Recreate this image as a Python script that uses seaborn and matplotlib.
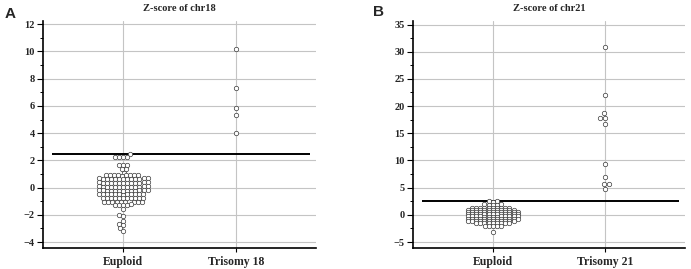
import numpy as np
import pandas as pd
import seaborn as sns
import matplotlib.pyplot as plt
from matplotlib.ticker import MultipleLocator
from matplotlib.collections import PathCollection

# ---------------- data (row by row) ----------------
groups_a = ["Euploid", "Trisomy 18"]
groups_b = ["Euploid", "Trisomy 21"]

euploid_chr18 = [
    2.45, 2.25, 2.24, 2.26, 2.25,
    1.65, 1.64, 1.66, 1.35, 1.33, 1.10,
    0.90, 0.91, 0.89, 0.90, 0.92, 0.88, 0.90, 0.91, 0.89,
    0.66, 0.65, 0.67, 0.66, 0.64, 0.66, 0.68, 0.65, 0.66, 0.67, 0.64, 0.66, 0.65,
    0.37, 0.36, 0.38, 0.37, 0.35, 0.37, 0.39, 0.36, 0.37, 0.38, 0.35, 0.37, 0.36,
    0.07, 0.06, 0.08, 0.07, 0.05, 0.07, 0.09, 0.06, 0.07, 0.08, 0.05, 0.07, 0.06,
    -0.22, -0.21, -0.23, -0.22, -0.20, -0.22, -0.24, -0.21, -0.22, -0.23, -0.20, -0.22, -0.21,
    -0.49, -0.48, -0.50, -0.49, -0.47, -0.49, -0.51, -0.48, -0.49, -0.50, -0.47, -0.49,
    -0.76, -0.75, -0.77, -0.76, -0.74, -0.76, -0.78, -0.75, -0.76, -0.77, -0.74,
    -1.05, -1.04, -1.06, -1.05, -1.03, -1.05, -1.07, -1.04, -1.06,
    -1.26, -1.25, -1.27, -1.24, -1.28,
    -1.60, -2.05, -2.07, -2.45, -2.68, -2.72, -3.00, -3.18,
]
trisomy18_chr18 = [10.15, 7.30, 5.85, 5.30, 4.00]

euploid_chr21 = [
    2.55, 2.57, 2.45,
    1.90, 1.88, 1.92, 1.89, 1.91,
    1.30, 1.29, 1.31, 1.30, 1.28, 1.32, 1.30, 1.29, 1.31, 1.30,
    0.90, 0.89, 0.91, 0.90, 0.88, 0.92, 0.90, 0.89, 0.91, 0.90, 0.88, 0.91,
    0.50, 0.49, 0.51, 0.50, 0.48, 0.52, 0.50, 0.49, 0.51, 0.50, 0.48, 0.51, 0.50,
    0.10, 0.09, 0.11, 0.10, 0.08, 0.12, 0.10, 0.09, 0.11, 0.10, 0.08, 0.11, 0.10,
    -0.30, -0.31, -0.29, -0.30, -0.32, -0.28, -0.30, -0.31, -0.29, -0.30, -0.32, -0.29, -0.30,
    -0.70, -0.71, -0.69, -0.70, -0.72, -0.68, -0.70, -0.71, -0.69, -0.70, -0.72, -0.69, -0.70,
    -1.10, -1.11, -1.09, -1.10, -1.12, -1.08, -1.10, -1.11, -1.09, -1.10, -1.12, -1.09,
    -1.50, -1.51, -1.49, -1.50, -1.52, -1.48, -1.50, -1.51, -1.49,
    -2.00, -2.02, -1.98, -2.05, -2.10,
    -3.10,
]
trisomy21_chr21 = [30.9, 22.1, 18.8, 17.9, 17.9, 16.7, 9.4, 6.9, 5.6, 5.6, 4.7]

threshold = 2.5
titles = ["Z-score of chr18", "Z-score of chr21"]
panel_letters = ["A", "B"]

df_a = pd.DataFrame({
    "group": ["Euploid"] * len(euploid_chr18) + ["Trisomy 18"] * len(trisomy18_chr18),
    "z": euploid_chr18 + trisomy18_chr18,
})
df_b = pd.DataFrame({
    "group": ["Euploid"] * len(euploid_chr21) + ["Trisomy 21"] * len(trisomy21_chr21),
    "z": euploid_chr21 + trisomy21_chr21,
})

# ---------------- style ----------------
sns.set_theme(style="white")
plt.rcParams['font.family'] = ['Liberation Serif', 'DejaVu Serif']

fig = plt.figure(figsize=(6.91, 2.69), dpi=100)
axA = fig.add_axes([43 / 691, 1 - 248 / 269, 273 / 691, 227 / 269])
axB = fig.add_axes([413 / 691, 1 - 248 / 269, 272 / 691, 227 / 269])

MS = 3.2
EDGE = "#3a3a3a"
GRID = "#c4c4c4"

def draw_panel(ax, df, order, ylim, major, minor, title):
    sns.swarmplot(data=df, x="group", y="z", order=order, ax=ax, size=MS,
                  color="white", edgecolor=EDGE, linewidth=0.5, zorder=3,
                  warn_thresh=1.0)
    ax.set_xlim(-0.71, 1.71)
    ax.set_ylim(*ylim)
    ax.yaxis.set_major_locator(MultipleLocator(major))
    ax.yaxis.set_minor_locator(MultipleLocator(minor))
    ax.set_xlabel("")
    ax.set_ylabel("")
    ax.grid(True, which="major", color=GRID, linewidth=0.8)
    ax.set_axisbelow(True)
    ax.hlines(threshold, -0.63, 1.655, color="black", linewidth=1.4, zorder=2)
    for s in ["top", "right"]:
        ax.spines[s].set_visible(False)
    for s in ["left", "bottom"]:
        ax.spines[s].set_color("black")
        ax.spines[s].set_linewidth(1.2)
    ax.tick_params(axis="y", which="major", left=True, direction="out",
                   length=4, width=0.8, color="black", labelsize=7.5, pad=2)
    ax.tick_params(axis="y", which="minor", left=True, direction="out",
                   length=2.5, width=0.7, color="black")
    ax.tick_params(axis="x", which="major", bottom=True, direction="out",
                   length=3, width=0.8, color="black", labelsize=8.5, pad=3)
    for lab in ax.get_xticklabels():
        lab.set_fontweight("bold")
    for lab in ax.get_yticklabels():
        lab.set_fontweight("bold")
    ax.set_title(title, fontsize=7.5, fontweight="bold", pad=7)

ylims = {axA: (-4.44, 12.24), axB: (-6.1, 35.65)}
draw_panel(axA, df_a, groups_a, ylims[axA], 2, 1, titles[0])
draw_panel(axB, df_b, groups_b, ylims[axB], 5, 2.5, titles[1])

# The source packs the Euploid circles in touching/overlapping rows, tighter than
# a strict swarm; compute seaborn's swarm layout with a smaller spacing (and a
# vertically stretched scale), then show the circles at full size.
layout = {axA: (2.3, 1.15), axB: (2.35, 2.3)}   # (layout marker size, y stretch)
euploid_pcs = {}
for ax, (ls, k) in layout.items():
    pc = [c for c in ax.collections if isinstance(c, PathCollection)][0]
    pc.set_sizes([ls ** 2])
    lo, hi = ylims[ax]
    ax.set_ylim(lo / k, hi / k)
    euploid_pcs[ax] = pc
fig.canvas.draw()
for ax, pc in euploid_pcs.items():
    if "draw" in pc.__dict__:
        del pc.draw
    pc.set_sizes([MS ** 2])
    ax.set_ylim(*ylims[ax])

fig.text(10 / 691, 1 - 13.5 / 269, panel_letters[0], fontsize=11, fontweight="bold",
         family=["Liberation Sans", "DejaVu Sans"], ha="center", va="center")
fig.text(378 / 691, 1 - 12.5 / 269, panel_letters[1], fontsize=11, fontweight="bold",
         family=["Liberation Sans", "DejaVu Sans"], ha="center", va="center")

fig.savefig("out.png", dpi=100)
